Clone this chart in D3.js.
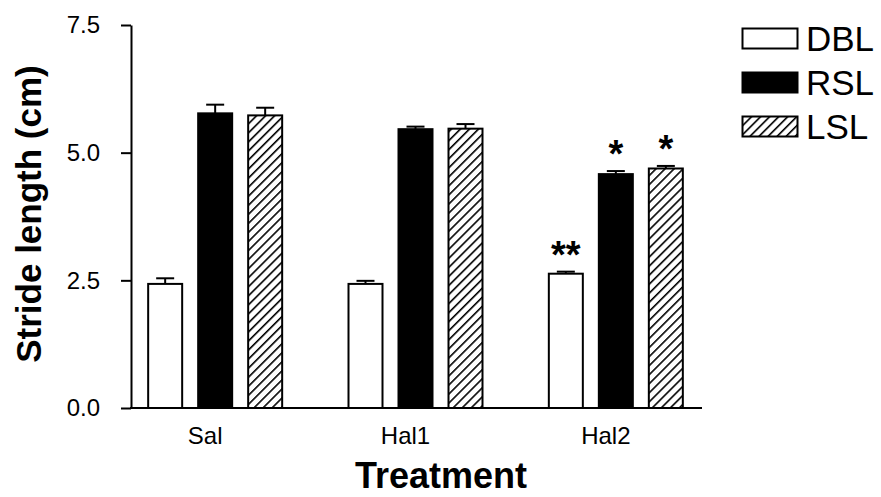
<!DOCTYPE html>
<html>
<head>
<meta charset="utf-8">
<script src="https://cdn.jsdelivr.net/npm/d3@7"></script>
<style>
  html, body { margin: 0; padding: 0; background: #fff; }
  svg { display: block; font-family: "Liberation Sans", Arial, sans-serif; }
</style>
</head>
<body>
<svg id="chart" width="881" height="497"></svg>
<script>
// Treatment groups and measured stride lengths (cm)
const categories = ["Sal", "Hal1", "Hal2"];
const series = ["DBL", "RSL", "LSL"];
const dblMean = [2.43, 2.43, 2.63];
const rslMean = [5.77, 5.46, 4.58];
const lslMean = [5.73, 5.47, 4.69];
const dblSem = [0.11, 0.06, 0.04];
const rslSem = [0.17, 0.05, 0.06];
const lslSem = [0.15, 0.09, 0.05];
const dblSig = ["", "", "**"];
const rslSig = ["", "", "*"];
const lslSig = ["", "", "*"];
const yTicks = [0, 2.5, 5.0, 7.5];

const means = { DBL: dblMean, RSL: rslMean, LSL: lslMean };
const sems = { DBL: dblSem, RSL: rslSem, LSL: lslSem };
const sigs = { DBL: dblSig, RSL: rslSig, LSL: lslSig };

const rows = [];
categories.forEach((c, i) => {
  series.forEach(s => {
    rows.push({ cat: c, s, mean: means[s][i], sem: sems[s][i], sig: sigs[s][i] });
  });
});

const svg = d3.select("#chart");

// hatch used for the LSL bars
const defs = svg.append("defs");
defs.append("pattern")
  .attr("id", "hatch")
  .attr("patternUnits", "userSpaceOnUse")
  .attr("width", 6.4).attr("height", 6.4)
  .attr("patternTransform", "rotate(45)")
  .call(p => {
    p.append("rect").attr("width", 6.4).attr("height", 6.4).attr("fill", "#fff");
    p.append("line").attr("x1", 0.8).attr("y1", 0).attr("x2", 0.8).attr("y2", 6.4)
      .attr("stroke", "#000").attr("stroke-width", 1.6);
  });

const fills = { DBL: "#fff", RSL: "#000", LSL: "url(#hatch)" };

const axisX = 131, axisRight = 702;
const y = d3.scaleLinear().domain([0, 7.5]).range([408, 25]);
const x0 = d3.scaleBand().domain(categories).range([115, 716]);
const x1 = d3.scaleBand().domain(series).range([-75, 75])
  .paddingInner(0.32).paddingOuter(0.16);

const cx = d => x0(d.cat) + x0.bandwidth() / 2;

// bars
svg.append("g").selectAll("rect").data(rows).join("rect")
  .attr("x", d => cx(d) + x1(d.s))
  .attr("y", d => y(d.mean))
  .attr("width", x1.bandwidth())
  .attr("height", d => y(0) - y(d.mean))
  .attr("fill", d => fills[d.s])
  .attr("stroke", "#000")
  .attr("stroke-width", 2);

// upper error bars
const eb = svg.append("g").attr("stroke", "#000").attr("stroke-width", 2);
rows.forEach(d => {
  const xc = cx(d) + x1(d.s) + x1.bandwidth() / 2;
  eb.append("line").attr("x1", xc).attr("x2", xc)
    .attr("y1", y(d.mean)).attr("y2", y(d.mean + d.sem));
  eb.append("line").attr("x1", xc - 9).attr("x2", xc + 9)
    .attr("y1", y(d.mean + d.sem)).attr("y2", y(d.mean + d.sem));
});

// significance marks
svg.append("g").selectAll("text").data(rows.filter(d => d.sig)).join("text")
  .attr("x", d => cx(d) + x1(d.s) + x1.bandwidth() / 2)
  .attr("y", d => y(d.mean + d.sem) - 4)
  .attr("text-anchor", "middle")
  .attr("font-size", 38)
  .attr("font-weight", "bold")
  .text(d => d.sig);

// y axis
const yAxis = svg.append("g")
  .attr("transform", `translate(${axisX},0)`)
  .call(d3.axisLeft(y).tickValues(yTicks).tickFormat(d3.format(".1f"))
    .tickSize(10).tickSizeOuter(0).tickPadding(21));
yAxis.selectAll("path, line").attr("stroke", "#000").attr("stroke-width", 2);
yAxis.selectAll("text").attr("font-size", 24).attr("fill", "#000")
  .attr("font-family", "'Liberation Sans', Arial, sans-serif");

// x axis baseline
svg.append("line")
  .attr("x1", axisX - 1).attr("x2", axisRight)
  .attr("y1", y(0)).attr("y2", y(0))
  .attr("stroke", "#000").attr("stroke-width", 2);

// category labels
svg.append("g").selectAll("text").data(categories).join("text")
  .attr("x", c => x0(c) + x0.bandwidth() / 2 - 10)
  .attr("y", 444)
  .attr("text-anchor", "middle")
  .attr("font-size", 24)
  .text(c => c);

// axis titles
svg.append("text")
  .attr("x", 441).attr("y", 488)
  .attr("text-anchor", "middle")
  .attr("font-size", 36).attr("font-weight", "bold")
  .text("Treatment");

svg.append("text")
  .attr("transform", "translate(41,214) rotate(-90)")
  .attr("text-anchor", "middle")
  .attr("font-size", 35).attr("font-weight", "bold")
  .text("Stride length (cm)");

// legend
const legend = svg.append("g").attr("transform", "translate(742,28)");
series.forEach((s, i) => {
  const g = legend.append("g").attr("transform", `translate(0,${i * 44})`);
  g.append("rect").attr("x", 0.5).attr("y", 0.5).attr("width", 55).attr("height", 20)
    .attr("fill", fills[s]).attr("stroke", "#000").attr("stroke-width", 2);
  g.append("text").attr("x", 64).attr("y", 23)
    .attr("font-size", 35).text(s);
});
</script>
</body>
</html>
